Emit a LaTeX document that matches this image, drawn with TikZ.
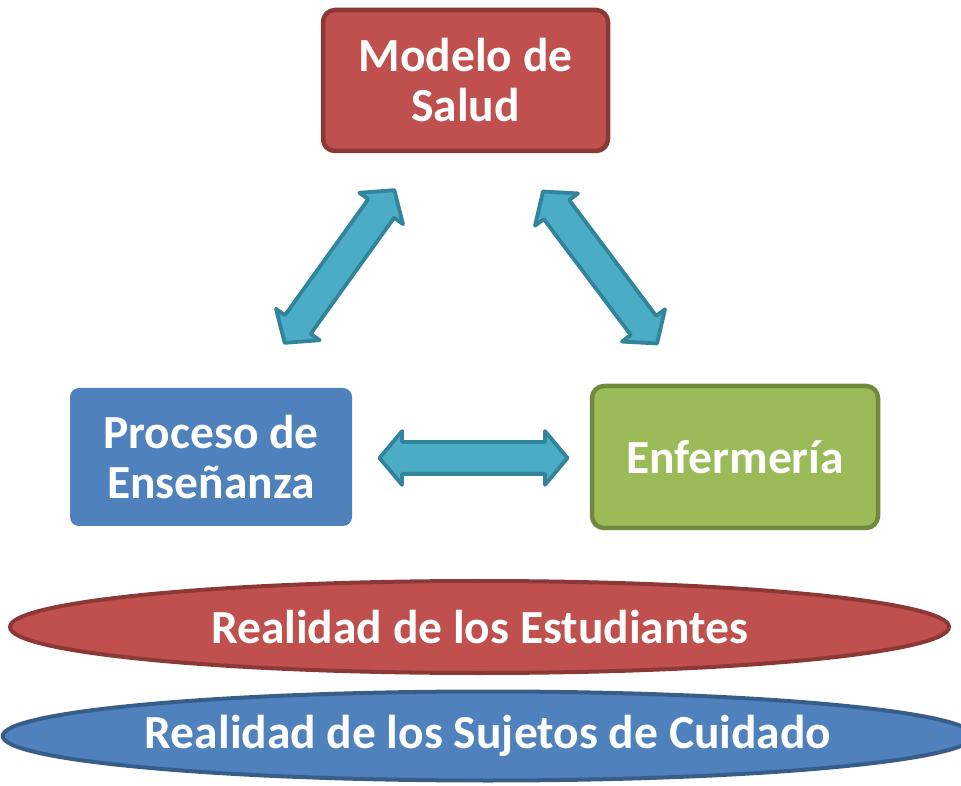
\documentclass[tikz,border=0pt]{standalone}
\usepackage{fontspec}
\setmainfont{Carlito}
\usetikzlibrary{shapes.arrows,shapes.geometric}
\definecolor{redfill}{HTML}{C0504D}
\definecolor{redline}{HTML}{8C3836}
\definecolor{bluefill}{HTML}{4F81BD}
\definecolor{blueline}{HTML}{385D8A}
\definecolor{greenfill}{HTML}{9BBB59}
\definecolor{greenline}{HTML}{71893F}
\definecolor{arrfill}{HTML}{4BACC6}
\definecolor{arrline}{HTML}{31849B}
\tikzset{
  boxtext/.style={text=white, font=\fontsize{47.5}{50}\selectfont\bfseries, align=center},
  rbox/.style={boxtext, rounded corners=12pt, line width=4.5pt, inner sep=0pt},
  oval/.style={boxtext, ellipse, line width=4pt, inner sep=0pt},
  darrow/.style={double arrow, fill=arrfill, draw=arrline, line width=3.8pt,
    inner xsep=0pt, inner ysep=14pt, double arrow head extend=11pt,
    double arrow tip angle=100, minimum height=#1, line join=round},
}
\begin{document}
\begin{tikzpicture}[x=1pt,y=1pt]
\useasboundingbox (0,0) rectangle (961,785);
\node[rbox, fill=redfill, draw=redline, minimum width=285pt, minimum height=141pt] (modelo) at (465.5,704.5) {Modelo de\\Salud};
\node[rbox, fill=bluefill, rounded corners=9pt, minimum width=282pt, minimum height=138pt] (proceso) at (211,328) {Proceso de\\Enseñanza};
\node[rbox, fill=greenfill, draw=greenline, minimum width=286pt, minimum height=142pt] (enf) at (735,328) {Enfermería};
\node[oval, fill=redfill, draw=redline, minimum width=939pt, minimum height=92pt] (est) at (479.5,158) {Realidad de los Estudiantes};
\node[oval, fill=bluefill, draw=blueline, minimum width=935pt, minimum height=89pt] (suj) at (488,49) {Realidad de los Sujetos de Cuidado};
\node[darrow=188pt, rotate=54.3] (a1) at (339.5,518.5) {};
\node[darrow=190pt, rotate=-53.1] (a2) at (600,517.5) {};
\node[darrow=188pt] (a3) at (473.5,327) {};
\end{tikzpicture}
\end{document}
